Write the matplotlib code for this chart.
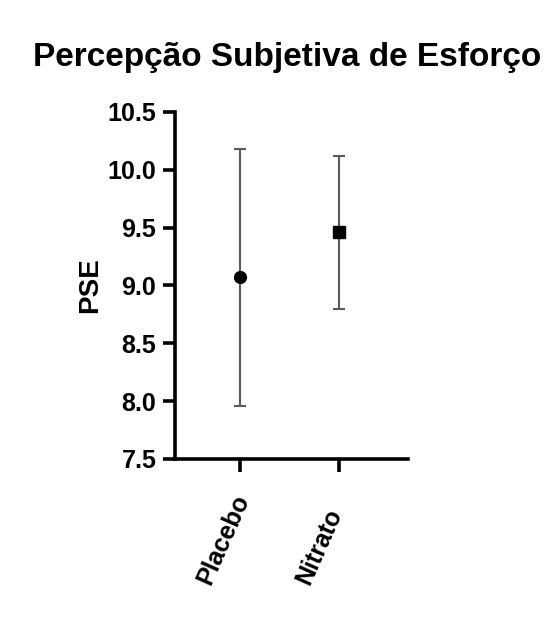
import matplotlib.pyplot as plt
from matplotlib.transforms import ScaledTranslation

plt.rcParams['font.family'] = ['Liberation Sans', 'DejaVu Sans']
plt.rcParams['font.weight'] = 'bold'

# PSE por grupo: média e limites da barra de erro
groups = ['Placebo', 'Nitrato']
means = [9.07, 9.46]
lower = [7.96, 8.80]
upper = [10.18, 10.12]
markers = ['o', 's']
yticks = [7.5, 8.0, 8.5, 9.0, 9.5, 10.0, 10.5]

fig = plt.figure(figsize=(5.53, 6.2), dpi=100)
ax = fig.add_axes([0.3165, 0.2597, 0.4215, 0.5597])

for i, g in enumerate(groups):
    err = [[means[i] - lower[i]], [upper[i] - means[i]]]
    ax.errorbar([i], [means[i]], yerr=err, fmt='none', ecolor='#5a5a5a',
                elinewidth=1.5, capsize=4.3, capthick=1.5, zorder=2)
    ax.plot([i], [means[i]], marker=markers[i], color='black',
            markersize=8.5 if markers[i] == 'o' else 8, linestyle='none', zorder=3)

ax.set_xlim(-0.66, 1.7)
ax.set_ylim(7.5, 10.5)
ax.set_yticks(yticks)
ax.set_yticklabels([f'{v:.1f}' for v in yticks], fontsize=18, fontweight='bold')
ax.set_xticks(range(len(groups)))
ax.set_xticklabels([])

# rótulos do eixo x alinhados pela base (início do texto)
lbl_trans = ax.get_xaxis_transform() + ScaledTranslation(-0.36, -1.24, fig.dpi_scale_trans)
for i, g in enumerate(groups):
    ax.text(i, 0, g, transform=lbl_trans, fontsize=18, fontweight='bold',
            rotation=66, rotation_mode='anchor', ha='left', va='center')

ax.spines['top'].set_visible(False)
ax.spines['right'].set_visible(False)
for s in ['left', 'bottom']:
    ax.spines[s].set_linewidth(2.6)
ax.tick_params(axis='y', width=2.6, length=8.5, pad=5)
ax.tick_params(axis='x', width=2.6, length=9)

ax.set_ylabel('PSE', fontsize=20, fontweight='bold', labelpad=3)
fig.text(0.52, 0.893, 'Percepção Subjetiva de Esforço', fontsize=24,
         fontweight='bold', ha='center', va='baseline')

fig.savefig('out.png', dpi=100)
